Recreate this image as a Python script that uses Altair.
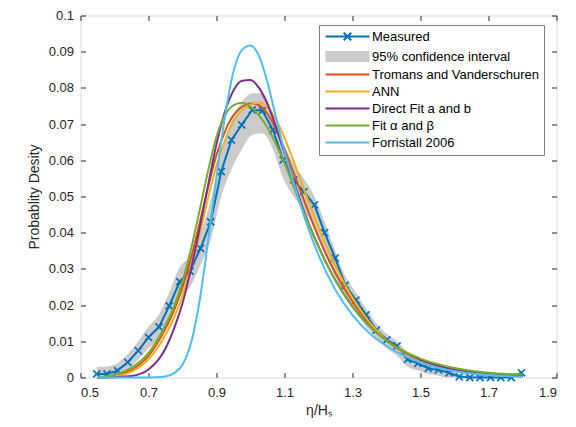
import altair as alt
import pandas as pd

# ---------------- data ----------------
mx = [0.548, 0.578, 0.609, 0.639, 0.670, 0.700, 0.731, 0.761, 0.792, 0.822,
      0.853, 0.883, 0.914, 0.944, 0.974, 1.005, 1.035, 1.066, 1.096, 1.127,
      1.157, 1.188, 1.218, 1.249, 1.279, 1.310, 1.340, 1.370, 1.401, 1.431,
      1.462, 1.492, 1.523, 1.553, 1.584, 1.614, 1.645, 1.675, 1.706, 1.736,
      1.767, 1.797]
my = [0.0010, 0.0010, 0.0019, 0.0042, 0.0074, 0.0111, 0.0140, 0.0198, 0.0265, 0.0294,
      0.0357, 0.0430, 0.0569, 0.0656, 0.0698, 0.0739, 0.0737, 0.0684, 0.0601, 0.0546,
      0.0513, 0.0477, 0.0400, 0.0330, 0.0255, 0.0214, 0.0173, 0.0131, 0.0104, 0.0087,
      0.0050, 0.0039, 0.0025, 0.0021, 0.0013, 0.0002, 0.0000, 0.0000, 0.0000, 0.0000,
      0.0000, 0.0013]
ci_lo = [0.0000, 0.0000, 0.0000, 0.0020, 0.0050, 0.0080, 0.0110, 0.0160, 0.0220, 0.0250,
         0.0310, 0.0380, 0.0500, 0.0575, 0.0630, 0.0670, 0.0675, 0.0630, 0.0550, 0.0500,
         0.0460, 0.0410, 0.0340, 0.0280, 0.0220, 0.0180, 0.0140, 0.0110, 0.0080, 0.0060,
         0.0030, 0.0020, 0.0010, 0.0005, 0.0000, 0.0000, 0.0000, 0.0000, 0.0000, 0.0000,
         0.0000, 0.0000]
ci_hi = [0.0030, 0.0030, 0.0040, 0.0065, 0.0100, 0.0140, 0.0175, 0.0235, 0.0305, 0.0335,
         0.0400, 0.0490, 0.0620, 0.0710, 0.0760, 0.0785, 0.0785, 0.0730, 0.0650, 0.0590,
         0.0550, 0.0500, 0.0430, 0.0350, 0.0280, 0.0235, 0.0190, 0.0150, 0.0120, 0.0100,
         0.0070, 0.0050, 0.0035, 0.0030, 0.0020, 0.0010, 0.0007, 0.0007, 0.0007, 0.0007,
         0.0007, 0.0020]

model_x = [0.55, 0.60, 0.65, 0.70, 0.75, 0.775, 0.80, 0.825, 0.85, 0.875,
           0.90, 0.925, 0.95, 0.975, 1.00, 1.025, 1.05, 1.075, 1.10, 1.125,
           1.15, 1.20, 1.25, 1.30, 1.35, 1.40, 1.50, 1.60, 1.70, 1.80]
tromans = [0.0000, 0.0005, 0.0021, 0.0060, 0.0135, 0.0185, 0.0250, 0.0330, 0.0425, 0.0525,
           0.0615, 0.0680, 0.0725, 0.0748, 0.0757, 0.0752, 0.0728, 0.0685, 0.0630, 0.0570,
           0.0508, 0.0388, 0.0288, 0.0210, 0.0148, 0.0102, 0.0046, 0.0020, 0.0008, 0.0003]
ann = [0.0000, 0.0003, 0.0016, 0.0050, 0.0118, 0.0165, 0.0225, 0.0305, 0.0395, 0.0495,
       0.0585, 0.0655, 0.0708, 0.0738, 0.0754, 0.0759, 0.0746, 0.0712, 0.0662, 0.0602,
       0.0538, 0.0415, 0.0308, 0.0220, 0.0152, 0.0103, 0.0045, 0.0018, 0.0007, 0.0003]
direct_fit = [0.0000, 0.0001, 0.0004, 0.0022, 0.0080, 0.0135, 0.0205, 0.0300, 0.0410, 0.0530,
              0.0645, 0.0735, 0.0793, 0.0820, 0.0822, 0.0800, 0.0755, 0.0692, 0.0620, 0.0548,
              0.0478, 0.0362, 0.0268, 0.0196, 0.0142, 0.0102, 0.0049, 0.0022, 0.0010, 0.0005]
fit_ab = [0.0001, 0.0008, 0.0027, 0.0068, 0.0145, 0.0196, 0.0265, 0.0355, 0.0460, 0.0570,
          0.0665, 0.0725, 0.0752, 0.0759, 0.0748, 0.0724, 0.0690, 0.0645, 0.0592, 0.0532,
          0.0472, 0.0360, 0.0268, 0.0196, 0.0142, 0.0102, 0.0052, 0.0026, 0.0013, 0.0008]
forristall = [0.0000, 0.0000, 0.0000, 0.0000, 0.0003, 0.0012, 0.0035, 0.0095, 0.0210, 0.0375,
              0.0555, 0.0722, 0.0845, 0.0905, 0.0917, 0.0888, 0.0815, 0.0718, 0.0625, 0.0545,
              0.0468, 0.0338, 0.0242, 0.0172, 0.0122, 0.0087, 0.0041, 0.0017, 0.0007, 0.0002]

series = ["Measured", "95% confidence interval", "Tromans and Vanderschuren", "ANN",
          "Direct Fit a and b", "Fit α and β", "Forristall 2006"]
colors = ["#0072BD", "#CBCBCB", "#D95319", "#EDB120", "#7E2F8E", "#77AC30", "#4DBEEE"]

x_ticks = [0.5, 0.7, 0.9, 1.1, 1.3, 1.5, 1.7, 1.9]
y_ticks = [0, 0.01, 0.02, 0.03, 0.04, 0.05, 0.06, 0.07, 0.08, 0.09, 0.1]

# ---------------- tables ----------------
meas_df = pd.DataFrame({"x": mx, "y": my, "series": series[0]})
ci_df = pd.DataFrame({"x": mx, "lo": ci_lo, "hi": ci_hi, "series": series[1]})
model_rows = []
for name, vals in zip(series[2:], [tromans, ann, direct_fit, fit_ab, forristall]):
    for xv, yv in zip(model_x, vals):
        model_rows.append({"x": xv, "y": yv, "series": name})
model_df = pd.DataFrame(model_rows)

W, H = 476, 362
FONT = "Liberation Sans"
AX = "#262626"
xs = alt.Scale(domain=[0.5, 1.9], nice=False, zero=False)
ys = alt.Scale(domain=[0, 0.1], nice=False)

# legend symbol paths (unit = sqrt(symbolSize)/2 px)
LINE = "M-4.4,0H4.4"
MEAS = "M-4.4,0H4.4M-0.75,-0.75L0.75,0.75M-0.75,0.75L0.75,-0.75"
BAND = "M-4.4,-0.9H4.4M-4.4,-0.5H4.4M-4.4,-0.1H4.4M-4.4,0.1H4.4M-4.4,0.5H4.4M-4.4,0.9H4.4"
CI = series[1]

legend = alt.Legend(
    title=None, orient="none", legendX=238.5, legendY=9.5,
    labelFont=FONT, labelFontSize=13, labelColor="#000000", labelOffset=18, labelLimit=400,
    symbolSize=100, symbolOffset=17, rowPadding=3, padding=5,
    symbolStrokeWidth=2, symbolOpacity=1,
    symbolType={"expr": f"datum.value === 'Measured' ? '{MEAS}' : (datum.value === '{CI}' ? '{BAND}' : '{LINE}')"},
    strokeColor="#7f7f7f", fillColor="white",
)
color = alt.Color("series:N", scale=alt.Scale(domain=series, range=colors), sort=series, legend=legend)

tick_common = dict(values=x_ticks, labels=False, ticks=True, tickSize=5, tickColor=AX,
                   domain=False, grid=False, title="")
ytick_common = dict(values=y_ticks, labels=False, ticks=True, tickSize=5, tickColor=AX,
                    domain=False, grid=False, title="")

ci_layer = alt.Chart(ci_df).mark_area(interpolate="monotone", opacity=1).encode(
    x=alt.X("x:Q", scale=xs, axis=alt.Axis(orient="bottom", values=x_ticks, format=".1f",
                                           ticks=False, domain=False, grid=False, labelPadding=9,
                                           labelFont=FONT, labelFontSize=13, labelColor=AX,
                                           title="η/Hₛ", titleFont=FONT, titleFontSize=14,
                                           titleFontWeight="normal", titleColor=AX, titlePadding=4)),
    y=alt.Y("lo:Q", scale=ys, axis=alt.Axis(orient="left", values=y_ticks, format=".2~f",
                                            ticks=False, domain=False, grid=False, labelPadding=7,
                                            labelFont=FONT, labelFontSize=13, labelColor=AX,
                                            title="Probablity Desity", titleFont=FONT, titleFontSize=14,
                                            titleFontWeight="normal", titleColor=AX, titlePadding=7)),
    y2="hi:Q",
    color=color,
)

meas_line = alt.Chart(meas_df).mark_line(strokeWidth=2).encode(
    x=alt.X("x:Q", scale=xs, axis=alt.Axis(orient="bottom", offset=-H, **tick_common)),
    y=alt.Y("y:Q", scale=ys, axis=alt.Axis(orient="left", offset=-W, **ytick_common)),
    color=color,
)

meas_pts = alt.Chart(meas_df).mark_point(
    shape="M-1,-1L1,1M-1,1L1,-1", size=50, filled=False, strokeWidth=1.7, color="#0072BD", opacity=1
).encode(
    x=alt.X("x:Q", scale=xs, axis=None),
    y=alt.Y("y:Q", scale=ys, axis=None),
)

models = alt.Chart(model_df).mark_line(strokeWidth=2, interpolate="monotone").encode(
    x=alt.X("x:Q", scale=xs, axis=alt.Axis(orient="top", offset=-H, **tick_common)),
    y=alt.Y("y:Q", scale=ys, axis=alt.Axis(orient="right", offset=-W, **ytick_common)),
    color=color,
    detail="series:N",
)

chart = alt.layer(ci_layer, meas_line, meas_pts, models).resolve_axis(
    x="independent", y="independent"
).properties(
    width=W, height=H,
    autosize=alt.AutoSizeParams(type="none"),
    padding={"left": 72.5, "top": 7.5, "right": 11.5, "bottom": 41.5},
    background="white",
).configure_view(stroke="#7a7a7a", strokeWidth=1).configure(font=FONT)

chart.save("out.html", embed_options={"renderer": "svg", "actions": False})
